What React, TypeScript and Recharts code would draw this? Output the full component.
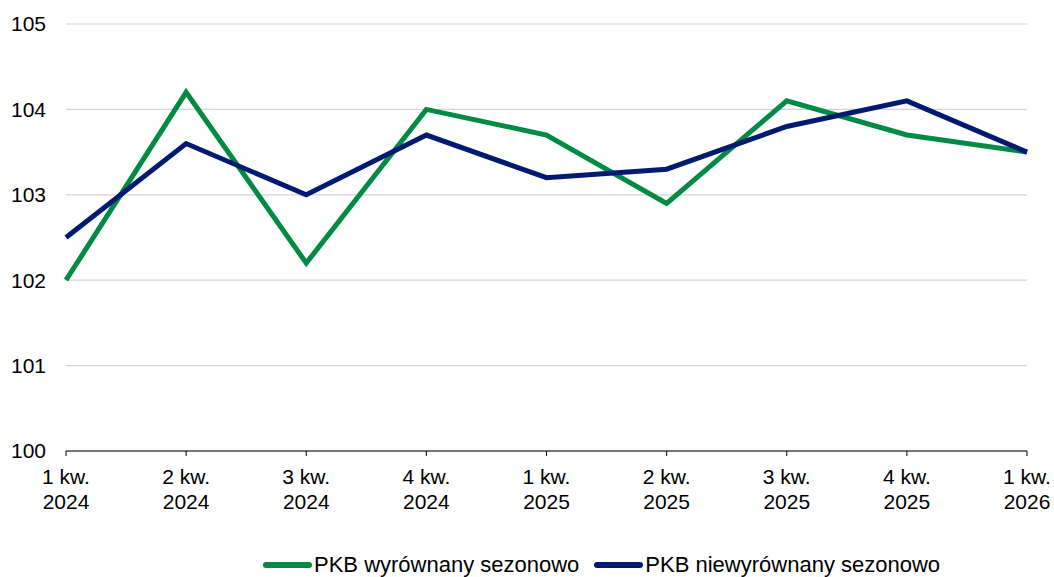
import { LineChart, Line, XAxis, YAxis, CartesianGrid, Legend } from "recharts";

const quarters = ["1 kw.", "2 kw.", "3 kw.", "4 kw.", "1 kw.", "2 kw.", "3 kw.", "4 kw.", "1 kw."];
const years = ["2024", "2024", "2024", "2024", "2025", "2025", "2025", "2025", "2026"];
const seasonallyAdjusted = [102.0, 104.2, 102.2, 104.0, 103.7, 102.9, 104.1, 103.7, 103.5];
const notAdjusted = [102.5, 103.6, 103.0, 103.7, 103.2, 103.3, 103.8, 104.1, 103.5];
const yTicks = [100, 101, 102, 103, 104, 105];

const GREEN = "#008A44";
const NAVY = "#001A72";
const FONT = "'Liberation Sans', Arial, sans-serif";

const data = quarters.map((q, i) => ({
  name: `${q}|${years[i]}`,
  "PKB wyrównany sezonowo": seasonallyAdjusted[i],
  "PKB niewyrównany sezonowo": notAdjusted[i],
}));

function QuarterTick({ x, y, payload }: any) {
  const [q, yr] = String(payload.value).split("|");
  return (
    <text x={x} y={y} textAnchor="middle" fill="#000" fontSize={21} fontFamily={FONT}>
      <tspan x={x} y={y + 28}>{q}</tspan>
      <tspan x={x} y={y + 53}>{yr}</tspan>
    </text>
  );
}

function LegendContent() {
  const items = [
    { label: "PKB wyrównany sezonowo", color: GREEN },
    { label: "PKB niewyrównany sezonowo", color: NAVY },
  ];
  return (
    <div
      style={{
        display: "flex",
        justifyContent: "flex-start",
        alignItems: "flex-end",
        height: 40,
        paddingLeft: 263,
        fontFamily: FONT,
        fontSize: 22,
        color: "#000",
        gap: 15,
      }}
    >
      {items.map((it) => (
        <div key={it.label} style={{ display: "flex", alignItems: "center", lineHeight: "24px" }}>
          <span
            style={{
              display: "inline-block",
              width: 49,
              height: 6,
              borderRadius: 3,
              background: it.color,
              marginRight: 2,
            }}
          />
          <span>{it.label}</span>
        </div>
      ))}
    </div>
  );
}

export default function App() {
  return (
    <div style={{ position: "absolute", left: 0, top: 0, background: "#fff" }}>
      <LineChart
        width={1054}
        height={577}
        data={data}
        margin={{ top: 24, right: 27, left: 0, bottom: 0 }}
      >
        <CartesianGrid horizontal vertical={false} stroke="#d4d4d4" strokeWidth={1.2} />
        <XAxis
          dataKey="name"
          interval={0}
          height={86}
          tickSize={5}
          tickMargin={0}
          axisLine={{ stroke: "#000", strokeWidth: 1.2 }}
          tickLine={{ stroke: "#000" }}
          tick={<QuarterTick />}
        />
        <YAxis
          domain={[100, 105]}
          ticks={yTicks}
          width={66}
          axisLine={false}
          tickLine={false}
          tickSize={0}
          tickMargin={20}
          tick={{ fill: "#000", fontSize: 21, fontFamily: FONT }}
        />
        <Legend
          verticalAlign="bottom"
          height={40}
          wrapperStyle={{ left: 0, width: 1054 }}
          content={<LegendContent />}
        />
        <Line
          type="linear"
          dataKey="PKB wyrównany sezonowo"
          stroke={GREEN}
          strokeWidth={5}
          dot={false}
          activeDot={false}
          isAnimationActive={false}
        />
        <Line
          type="linear"
          dataKey="PKB niewyrównany sezonowo"
          stroke={NAVY}
          strokeWidth={5}
          dot={false}
          activeDot={false}
          isAnimationActive={false}
        />
      </LineChart>
    </div>
  );
}
